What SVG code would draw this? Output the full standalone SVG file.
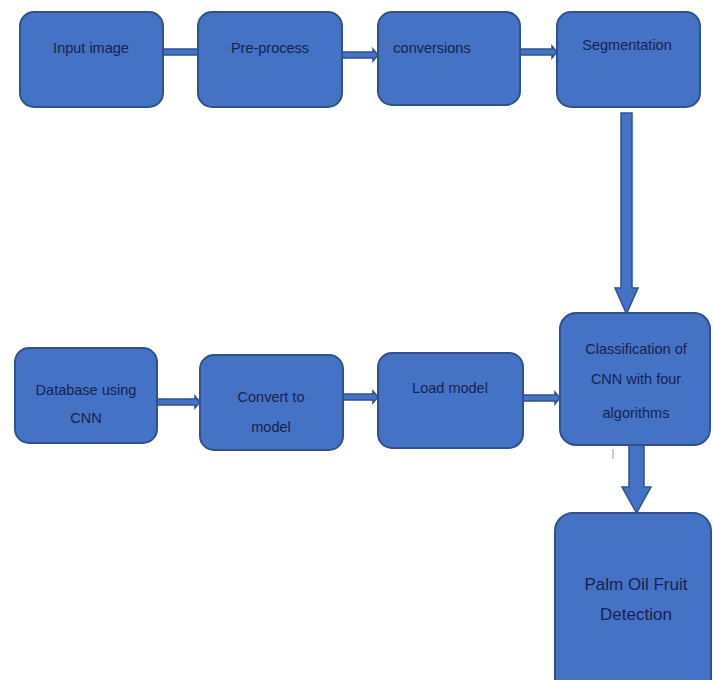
<svg xmlns="http://www.w3.org/2000/svg" width="713" height="680" viewBox="0 0 713 680">
<defs>
<style>
.box{fill:#4472C4;stroke:#2F528F;stroke-width:2}
.t{font-family:"Liberation Sans","Open Sans",sans-serif;font-size:14.5px;fill:#17244F;text-anchor:middle}
.tb{font-family:"Liberation Sans","Open Sans",sans-serif;font-size:17px;fill:#17244F;text-anchor:middle}
.conn{fill:#4472C4;stroke:#2F528F;stroke-width:1.5}
</style>
</defs>
<rect width="713" height="680" fill="#ffffff"/>
<g id="connectors">
<path class="conn" d="M163,49 H198 V55 H163 Z"/>
<path class="conn" d="M342,52 H373 V49 L378,55 L373,61 V58 H342 Z"/>
<path class="conn" d="M520,49 H552 V46 L557,52 L552,58 V55 H520 Z"/>
<path class="conn" d="M157,399 H195 V396 L200,402 L195,408 V405 H157 Z"/>
<path class="conn" d="M343,394 H373 V391 L378,397 L373,403 V400 H343 Z"/>
<path class="conn" d="M523,395 H555 V392 L560,398 L555,404 V401 H523 Z"/>
<path class="conn" d="M621,113 H632 V288 H638 L626.5,314 L615,288 H621 Z"/>
<path class="conn" d="M629,445 H644 V487 H651 L636.5,513 L622,487 H629 Z"/>
<line x1="613" y1="449" x2="613" y2="459" stroke="#9a9a9a" stroke-width="1"/>
</g>
<g id="input-image">
<rect class="box" x="20" y="12" width="143" height="95" rx="14"/>
<text class="t" x="91" y="53">Input image</text>
</g>
<g id="pre-process">
<rect class="box" x="198" y="12" width="144" height="95" rx="14"/>
<text class="t" x="270" y="53">Pre-process</text>
</g>
<g id="conversions">
<rect class="box" x="378" y="12" width="142" height="93" rx="14"/>
<text class="t" x="432" y="53">conversions</text>
</g>
<g id="segmentation">
<rect class="box" x="557" y="12" width="143" height="95" rx="14"/>
<text class="t" x="627" y="50">Segmentation</text>
</g>
<g id="database">
<rect class="box" x="15" y="348" width="142" height="95" rx="14"/>
<text class="t" x="86" y="395">Database using</text>
<text class="t" x="86" y="423">CNN</text>
</g>
<g id="convert-model">
<rect class="box" x="200" y="355" width="143" height="95" rx="14"/>
<text class="t" x="271" y="402">Convert to</text>
<text class="t" x="271" y="432">model</text>
</g>
<g id="load-model">
<rect class="box" x="378" y="353" width="145" height="95" rx="14"/>
<text class="t" x="450" y="393">Load model</text>
</g>
<g id="classification">
<rect class="box" x="560" y="313" width="150" height="132" rx="16"/>
<text class="t" x="636" y="354">Classification of</text>
<text class="t" x="636" y="384">CNN with four</text>
<text class="t" x="636" y="418">algorithms</text>
</g>
<g id="palm-oil">
<rect class="box" x="555" y="513" width="156" height="190" rx="18"/>
<text class="tb" x="636" y="590">Palm Oil Fruit</text>
<text class="tb" x="636" y="620">Detection</text>
</g>
</svg>
